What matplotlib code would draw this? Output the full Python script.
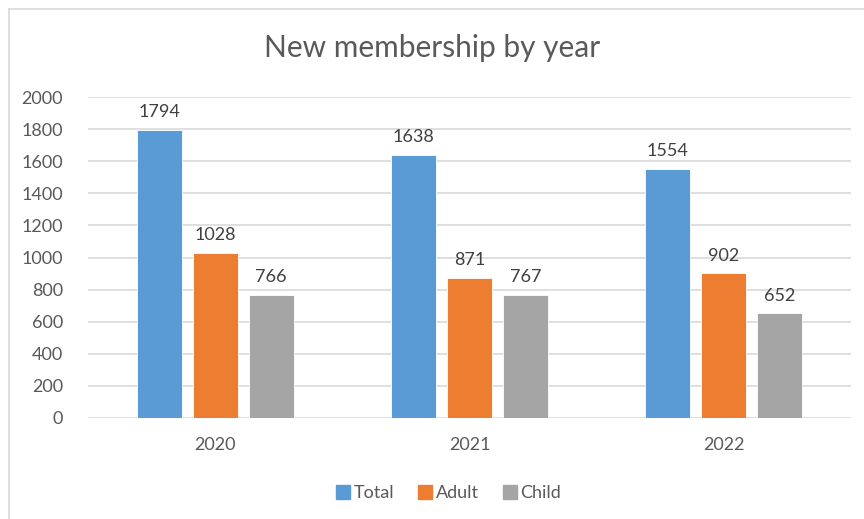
import matplotlib
matplotlib.use("Agg")
import matplotlib.pyplot as plt
import numpy as np
from matplotlib.lines import Line2D

years = ["2020", "2021", "2022"]
series_names = ["Total", "Adult", "Child"]
total = [1794, 1638, 1554]
adult = [1028, 871, 902]
child = [766, 767, 652]
colors = ["#5B9BD5", "#ED7D31", "#A5A5A5"]
yticks = [0, 200, 400, 600, 800, 1000, 1200, 1400, 1600, 1800, 2000]

plt.rcParams['font.family'] = ['Lato', 'DejaVu Sans']
txt = "#595959"

fig = plt.figure(figsize=(8.64, 5.19), dpi=100)
ax = fig.add_axes([88/864, 1-418/519, (851-88)/864, (418-97)/519])

x = np.arange(len(years))
width = 0.177
offset = 0.22
for i, (name, vals) in enumerate(zip(series_names, [total, adult, child])):
    bars = ax.bar(x + (i-1)*offset, vals, width, color=colors[i], label=name,
                  edgecolor="white", linewidth=0.6, zorder=3)
    for b, v in zip(bars, vals):
        ax.annotate(str(v), (b.get_x()+b.get_width()/2, v), xytext=(0, 7),
                    textcoords="offset points", ha="center", va="bottom",
                    fontsize=13, color="#404040")

ax.set_xlim(-0.5, 2.5)
ax.set_ylim(0, 2000)
ax.set_yticks(yticks)
ax.set_yticklabels([str(t) for t in yticks])
ax.set_xticks(x)
ax.set_xticklabels(years)
ax.grid(axis="y", color="#D9D9D9", linewidth=1.2, zorder=0)
for s in ["top", "right", "left", "bottom"]:
    ax.spines[s].set_visible(False)
ax.tick_params(axis="both", length=0, labelsize=13, colors=txt)
ax.tick_params(axis="y", pad=18)
ax.tick_params(axis="x", pad=14)

fig.text(0.5, 1-48/519, "New membership by year", ha="center", va="center",
         fontsize=21.5, color=txt)

handles = [Line2D([0], [0], marker="s", linestyle="", markersize=10,
                  markerfacecolor=c, markeredgecolor=c) for c in colors]
fig.legend(handles, series_names, loc="center", bbox_to_anchor=(0.518, 1-493/519),
           ncol=3, frameon=False, fontsize=13, labelcolor=txt,
           handletextpad=0.1, columnspacing=1.2, handlelength=1.0)

# chart border (left and top visible)
fig.add_artist(Line2D([8.5/864, 8.5/864], [0, 1-8.5/519], transform=fig.transFigure,
                      color="#D9D9D9", linewidth=1.2))
fig.add_artist(Line2D([8.5/864, 1], [1-8.5/519, 1-8.5/519], transform=fig.transFigure,
                      color="#D9D9D9", linewidth=1.2))

fig.savefig("out.png", dpi=100)
